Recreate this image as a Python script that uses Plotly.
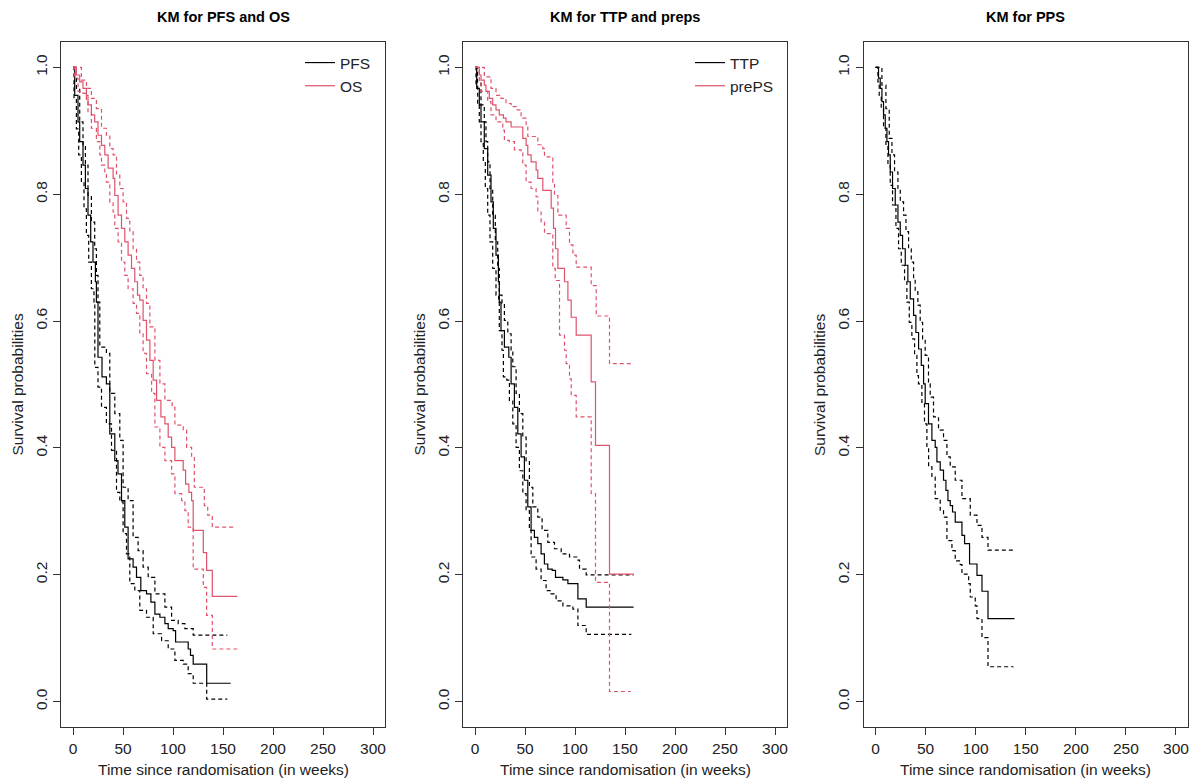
import plotly.graph_objects as go

W, H = 1195, 783
RED = "#DF536B"
BLACK = "#000000"

# ---------------- Panel 1: PFS and OS ----------------
pfs_t = [0, 1.7, 5, 6.7, 10, 12.4, 15, 17.7, 20, 22.4, 23.4, 25, 29, 33.4, 36.8, 41.8, 45, 48.5, 51.8, 55.1,
         60.1, 63.5, 67.8, 73.5, 77.9, 81.9, 86.9, 91.9, 95.2, 100.2, 102.6, 115.2, 117.5, 120.2, 133.7, 157.7]
pfs_s = [1, 0.956, 0.914, 0.883, 0.846, 0.809, 0.767, 0.725, 0.693, 0.662, 0.630, 0.543, 0.512, 0.501, 0.422,
         0.380, 0.359, 0.317, 0.275, 0.225, 0.212, 0.196, 0.175, 0.170, 0.157, 0.138, 0.133, 0.123, 0.115, 0.112,
         0.094, 0.083, 0.073, 0.059, 0.029, 0.029]
pfs_up_t = [0, 3.4, 6.7, 10, 12.4, 15, 18.4, 21.7, 23.4, 25, 26.8, 33.4, 36.8, 41.8, 46.8, 50.1, 55.1, 60.1, 65.1,
            70.1, 75.2, 81.9, 91.9, 98.6, 105.2, 111.9, 120.2, 154.3]
pfs_up_s = [1, 0.967, 0.914, 0.877, 0.846, 0.798, 0.756, 0.714, 0.672, 0.630, 0.559, 0.549, 0.486, 0.454, 0.412,
            0.338, 0.317, 0.259, 0.238, 0.212, 0.196, 0.170, 0.149, 0.128, 0.123, 0.115, 0.105, 0.105]
pfs_lo_t = [0, 1, 3.4, 5.7, 8.4, 11, 13.4, 15.7, 18.4, 21, 21.8, 25, 28.5, 33.4, 38.5, 43.5, 46.8, 50.1, 53.5, 56.8,
            61.8, 66.8, 73.5, 80.2, 88.6, 95.2, 101.9, 110.2, 115.2, 120.2, 133.7, 154.3]
pfs_lo_s = [1, 0.951, 0.903, 0.862, 0.819, 0.777, 0.735, 0.693, 0.651, 0.630, 0.527, 0.496, 0.464, 0.438, 0.396,
            0.330, 0.315, 0.265, 0.233, 0.186, 0.175, 0.144, 0.133, 0.107, 0.096, 0.083, 0.065, 0.059, 0.044, 0.029,
            0.004, 0.004]

os_t = [0, 3.4, 6.7, 10, 13.4, 15, 18.4, 21.7, 25, 28.5, 31.8, 35.1, 40.1, 41.8, 45.1, 48.5, 51.8, 55.1, 58.5, 61.8,
        64.5, 66.8, 70.1, 73.5, 76.9, 80.2, 83.6, 87.9, 91.9, 95.2, 98.6, 101.9, 110.2, 112.6, 115.9, 118.6, 120.2,
        130.3, 133.6, 139.3, 164.3]
os_s = [1, 0.988, 0.977, 0.967, 0.956, 0.941, 0.925, 0.914, 0.893, 0.877, 0.862, 0.841, 0.825, 0.798, 0.767, 0.746,
        0.725, 0.704, 0.683, 0.662, 0.641, 0.633, 0.601, 0.570, 0.538, 0.507, 0.475, 0.449, 0.438, 0.417, 0.401,
        0.380, 0.365, 0.343, 0.330, 0.317, 0.270, 0.235, 0.207, 0.166, 0.166]
os_up_t = [0, 8.4, 13.4, 18.4, 23.4, 28.5, 33.4, 36.8, 40.1, 43.5, 46.8, 50.1, 53.5, 56.8, 60.1, 63.5, 66.8, 70.1,
           73.5, 76.9, 81.9, 86.9, 91.9, 99.2, 101.9, 110.2, 113.6, 118.6, 121.3, 130.3, 131.3, 134.7, 139.3, 161]
os_up_s = [1, 0.980, 0.967, 0.951, 0.935, 0.904, 0.893, 0.872, 0.862, 0.830, 0.809, 0.788, 0.762, 0.741, 0.714,
           0.693, 0.672, 0.651, 0.628, 0.591, 0.538, 0.501, 0.475, 0.464, 0.436, 0.428, 0.401, 0.386, 0.338, 0.336,
           0.309, 0.294, 0.275, 0.275]
os_lo_t = [0, 1.7, 5, 10, 13.4, 15, 18.4, 23.4, 26.8, 28.5, 31.8, 33.4, 36.8, 40.1, 41.8, 45.1, 48.5, 51.8, 55.1,
           60.1, 63.5, 66.8, 70.1, 73.5, 78.6, 81.9, 86.9, 91.9, 98.6, 101.9, 108.6, 111.9, 115.2, 120.2, 130.3,
           133.6, 139.3, 164.3]
os_lo_s = [1, 0.983, 0.962, 0.959, 0.946, 0.930, 0.904, 0.883, 0.862, 0.846, 0.835, 0.819, 0.788, 0.772, 0.746,
           0.725, 0.693, 0.672, 0.651, 0.628, 0.612, 0.580, 0.549, 0.517, 0.486, 0.433, 0.401, 0.380, 0.359, 0.328,
           0.317, 0.301, 0.275, 0.209, 0.180, 0.136, 0.083, 0.083]

# ---------------- Panel 2: TTP and prePS ----------------
ttp_t = [0, 1.7, 4.3, 6, 9.3, 12.7, 16, 18.3, 21, 23.4, 24.3, 26, 29.4, 33.8, 36.1, 39.4, 42.8, 46.1, 49.4, 52.8,
         56.1, 59.4, 62.8, 66.1, 69.4, 72.8, 77.2, 80.5, 87.9, 92.9, 102.9, 111.2, 158.6]
ttp_s = [1, 0.967, 0.941, 0.914, 0.872, 0.830, 0.788, 0.746, 0.704, 0.662, 0.630, 0.585, 0.559, 0.543, 0.501, 0.464,
         0.422, 0.386, 0.349, 0.307, 0.270, 0.259, 0.249, 0.233, 0.217, 0.209, 0.207, 0.196, 0.192, 0.186, 0.162,
         0.149, 0.149]
ttp_up_t = [0, 2.5, 6, 9.3, 11, 12.7, 15, 17.7, 20.3, 22.7, 24.3, 27, 29.4, 32.8, 36.1, 37.8, 41.1, 44.4, 47.8, 51.1,
            54.4, 57.8, 62.8, 67.1, 72.8, 79.5, 86.2, 94.5, 102.9, 104.5, 111.2, 158.6]
ttp_up_s = [1, 0.975, 0.941, 0.914, 0.883, 0.851, 0.809, 0.767, 0.725, 0.683, 0.641, 0.628, 0.601, 0.580, 0.554,
            0.528, 0.486, 0.454, 0.417, 0.380, 0.338, 0.307, 0.291, 0.270, 0.251, 0.241, 0.233, 0.228, 0.223, 0.209,
            0.200, 0.200]
ttp_lo_t = [0, 1, 2.7, 4.3, 6, 8.3, 10.3, 12.7, 15, 17.7, 21, 23.7, 24.3, 27, 28.4, 31.8, 34.4, 37.8, 41.1, 44.4,
            47.8, 51.1, 54.4, 56.1, 61.1, 66.1, 71.1, 76.1, 81.1, 87.9, 97.9, 102.9, 111.2, 156.3]
ttp_lo_s = [1, 0.972, 0.941, 0.914, 0.883, 0.851, 0.809, 0.767, 0.725, 0.683, 0.641, 0.633, 0.585, 0.554, 0.512,
            0.507, 0.475, 0.438, 0.401, 0.364, 0.328, 0.301, 0.270, 0.228, 0.209, 0.191, 0.175, 0.170, 0.159, 0.151,
            0.146, 0.120, 0.106, 0.106]

preps_t = [0, 4.3, 6, 9.3, 11, 14.3, 17.7, 21, 24.3, 28.4, 31, 36.1, 47.8, 51.1, 52.8, 56.1, 61.1, 62.8, 67.8, 76.2,
           78.5, 80.5, 82.9, 89.5, 92.9, 96.2, 101.2, 116.2, 120.5, 134.5, 158.6]
preps_s = [1, 0.988, 0.980, 0.972, 0.962, 0.951, 0.941, 0.933, 0.925, 0.920, 0.914, 0.906, 0.888, 0.877, 0.862,
           0.851, 0.838, 0.825, 0.806, 0.778, 0.746, 0.714, 0.683, 0.662, 0.633, 0.606, 0.578, 0.504, 0.404, 0.201,
           0.201]
preps_up_t = [0, 9.3, 16, 21, 26, 31, 36.1, 41.1, 46.1, 51.1, 52.8, 62.8, 67.8, 69.5, 77.8, 79.5, 82.9, 91.2, 94.5,
              97.9, 101.2, 116.2, 121.2, 134.5, 158.3]
preps_up_s = [1, 0.985, 0.967, 0.956, 0.951, 0.943, 0.938, 0.933, 0.920, 0.907, 0.891, 0.878, 0.872, 0.859, 0.819,
              0.798, 0.767, 0.746, 0.720, 0.704, 0.685, 0.656, 0.608, 0.533, 0.533]
preps_lo_t = [0, 4.3, 6, 12.7, 16, 21, 27.8, 29.4, 34.4, 39.4, 46.1, 47.8, 51.1, 56.1, 61.1, 62.8, 66.1, 69.5, 77.8,
              80.2, 84.5, 89.5, 91.2, 94.5, 96.2, 101.2, 116.2, 120.5, 134.5, 155.9]
preps_lo_s = [1, 0.977, 0.962, 0.946, 0.925, 0.914, 0.901, 0.885, 0.883, 0.870, 0.867, 0.846, 0.819, 0.809, 0.796,
              0.772, 0.756, 0.738, 0.683, 0.664, 0.578, 0.554, 0.533, 0.509, 0.483, 0.449, 0.328, 0.188, 0.016, 0.016]

# ---------------- Panel 3: PPS ----------------
pps_t = [0, 3, 4.7, 6.4, 8, 9.7, 11.4, 13, 14.7, 17, 19.7, 22.4, 24.7, 27, 29.7, 32.3, 34.7, 38, 40.3, 43, 45.7, 48,
         49.6, 52.9, 56.3, 59.6, 61.3, 64.6, 67.9, 70.3, 72.3, 74.6, 76.9, 79.6, 86.3, 88.9, 93.9, 101.3, 106.3, 112.3,
         138.8]
pps_s = [1, 0.983, 0.967, 0.946, 0.925, 0.904, 0.883, 0.862, 0.835, 0.809, 0.783, 0.756, 0.735, 0.714, 0.688, 0.662,
         0.635, 0.609, 0.582, 0.556, 0.530, 0.501, 0.470, 0.438, 0.412, 0.401, 0.378, 0.365, 0.349, 0.333, 0.317,
         0.309, 0.299, 0.283, 0.262, 0.249, 0.217, 0.199, 0.174, 0.131, 0.131]
pps_up_t = [0, 6.4, 10.4, 13.7, 16.4, 19, 22.4, 24.7, 28, 30.4, 33, 35.7, 38, 39.6, 42.3, 44.6, 47, 49.6, 52.9, 54.6,
            57.9, 62.9, 67.9, 71.3, 74.6, 79.6, 86.3, 94.6, 101.3, 106.3, 112.3, 137.8]
pps_up_s = [1, 0.972, 0.935, 0.888, 0.862, 0.835, 0.809, 0.788, 0.767, 0.741, 0.714, 0.693, 0.667, 0.646, 0.625,
            0.598, 0.572, 0.546, 0.501, 0.480, 0.449, 0.428, 0.412, 0.386, 0.370, 0.349, 0.320, 0.294, 0.278, 0.259,
            0.239, 0.239]
pps_lo_t = [0, 2.4, 3.7, 5.7, 8, 10.4, 12.4, 14.7, 17, 20.4, 23, 25.7, 29, 31.3, 33.7, 36.3, 39, 41.3, 42.9, 46.3,
            48.9, 51.3, 53, 56.3, 59.6, 64.6, 67.9, 71.3, 76.3, 79.6, 84.6, 86.3, 93, 94.6, 99.6, 101.3, 106.3, 112.3,
            137.8]
pps_lo_s = [1, 0.977, 0.956, 0.935, 0.904, 0.877, 0.846, 0.814, 0.783, 0.746, 0.714, 0.688, 0.662, 0.630, 0.598,
            0.572, 0.546, 0.514, 0.501, 0.470, 0.438, 0.401, 0.370, 0.354, 0.320, 0.301, 0.291, 0.254, 0.238, 0.222,
            0.216, 0.201, 0.186, 0.165, 0.151, 0.131, 0.101, 0.055, 0.055]

titles = ["KM for PFS and OS", "KM for TTP and preps", "KM for PPS"]
x_label = "Time since randomisation (in weeks)"
y_label = "Survival probabilities"
x_ticks = [0, 50, 100, 150, 200, 250, 300]
y_ticks = [0.0, 0.2, 0.4, 0.6, 0.8, 1.0]
y_tick_text = ["0.0", "0.2", "0.4", "0.6", "0.8", "1.0"]

FONT = "Liberation Sans, Arial, sans-serif"
FS = 15.5
DASH = "4px,3px"
LW = 1.2

fig = go.Figure()


def add_curve(t, s, color, dash, axis, name=None, legend=None):
    xa = "x" if axis == 1 else f"x{axis}"
    ya = "y" if axis == 1 else f"y{axis}"
    fig.add_trace(go.Scatter(
        x=t, y=s, mode="lines", line=dict(color=color, width=LW, dash=dash, shape="hv"),
        xaxis=xa, yaxis=ya, name=name if name else "", showlegend=name is not None,
        legend=legend if legend else "legend", hoverinfo="skip"))


add_curve(pfs_t, pfs_s, BLACK, "solid", 1, "PFS", "legend")
add_curve(pfs_up_t, pfs_up_s, BLACK, DASH, 1)
add_curve(pfs_lo_t, pfs_lo_s, BLACK, DASH, 1)
add_curve(os_t, os_s, RED, "solid", 1, "OS", "legend")
add_curve(os_up_t, os_up_s, RED, DASH, 1)
add_curve(os_lo_t, os_lo_s, RED, DASH, 1)

add_curve(ttp_t, ttp_s, BLACK, "solid", 2, "TTP", "legend2")
add_curve(ttp_up_t, ttp_up_s, BLACK, DASH, 2)
add_curve(ttp_lo_t, ttp_lo_s, BLACK, DASH, 2)
add_curve(preps_t, preps_s, RED, "solid", 2, "prePS", "legend2")
add_curve(preps_up_t, preps_up_s, RED, DASH, 2)
add_curve(preps_lo_t, preps_lo_s, RED, DASH, 2)

add_curve(pps_t, pps_s, BLACK, "solid", 3)
add_curve(pps_up_t, pps_up_s, BLACK, DASH, 3)
add_curve(pps_lo_t, pps_lo_s, BLACK, DASH, 3)

x_dom_px = [(61, 385), (463, 787), (863.5, 1188)]
y_top_px, y_bot_px = 42, 727
ydom = [1 - y_bot_px / H, 1 - y_top_px / H]

layout = dict(
    width=W, height=H, margin=dict(l=0, r=0, t=0, b=0),
    paper_bgcolor="white", plot_bgcolor="white",
    font=dict(family=FONT, size=FS, color="#222222"),
    showlegend=True,
)

annotations = []
for i, (x0, x1) in enumerate(x_dom_px):
    k = "" if i == 0 else str(i + 1)
    layout["xaxis" + k] = dict(
        domain=[x0 / W, x1 / W], anchor="y" + k, range=[-12, 312],
        tickmode="array", tickvals=x_ticks, ticks="outside", ticklen=7, tickwidth=1,
        tickcolor="#333333", showline=True, mirror=True, linecolor="#333333", linewidth=1,
        showgrid=False, zeroline=False, tickfont=dict(size=FS, color="#222222"),
    )
    layout["yaxis" + k] = dict(
        domain=ydom, anchor="x" + k, range=[-0.04, 1.04],
        tickmode="array", tickvals=y_ticks, ticktext=y_tick_text, tickangle=-90,
        ticks="outside", ticklen=7, tickwidth=1, tickcolor="#333333",
        showline=True, mirror=True, linecolor="#333333", linewidth=1,
        showgrid=False, zeroline=False, tickfont=dict(size=FS, color="#222222"),
    )
    cx = (x0 + x1) / 2 / W
    annotations.append(dict(text="<b>" + titles[i] + "</b>", x=cx, y=1 - 17 / H, xref="paper", yref="paper",
                            showarrow=False, xanchor="center", yanchor="middle",
                            font=dict(size=14.5, color="#000000", family=FONT)))
    annotations.append(dict(text=x_label, x=cx, y=1 - 769 / H, xref="paper", yref="paper",
                            showarrow=False, xanchor="center", yanchor="middle",
                            font=dict(size=FS, color="#222222", family=FONT)))
    annotations.append(dict(text=y_label, x=(x0 - 44) / W, y=(ydom[0] + ydom[1]) / 2, xref="paper", yref="paper",
                            showarrow=False, xanchor="center", yanchor="middle", textangle=-90,
                            font=dict(size=FS, color="#222222", family=FONT)))

layout["annotations"] = annotations
legend_common = dict(xanchor="left", yanchor="top", bgcolor="rgba(0,0,0,0)", borderwidth=0,
                     font=dict(size=FS, color="#222222", family=FONT), itemwidth=30, tracegroupgap=0)
layout["legend"] = dict(x=300 / W, y=1 - 46 / H, **legend_common)
layout["legend2"] = dict(x=690 / W, y=1 - 46 / H, **legend_common)

fig.update_layout(**layout)
fig.write_html("out.html")
